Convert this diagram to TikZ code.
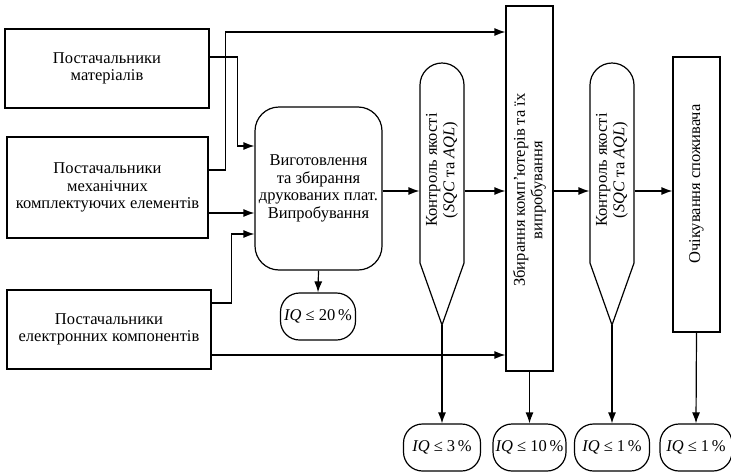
\documentclass[tikz,border=0pt]{standalone}
\usepackage{fontspec}
\setmainfont{Liberation Serif}
\usetikzlibrary{arrows.meta}
\begin{document}
\begin{tikzpicture}[x=1pt,y=-1pt,
  line width=1.2pt,
  every node/.style={font=\fontsize{16.5}{17.5}\selectfont, align=center, inner sep=0pt},
  block/.style={draw, rectangle},
  roundblock/.style={draw, rounded corners=24pt},
  result/.style={draw, rounded corners=19pt, minimum height=47pt},
  qcbody/.style={rectangle, minimum width=44pt},
  arr/.style={-{Latex[length=11pt,width=8pt]}}]
\useasboundingbox (0,0) rectangle (731,474);

% suppliers
\node[block, minimum width=204pt, minimum height=79pt] (sup1) at (107,68.5)
  {Постачальники\\матеріалів};
\node[block, minimum width=201pt, minimum height=101pt] (sup2) at (107.5,187.5)
  {Постачальники\\механічних\\комплектуючих елементів};
\node[block, minimum width=204pt, minimum height=79pt] (sup3) at (109,329.5)
  {Постачальники\\електронних компонентів};

% board manufacturing
\node[roundblock, minimum width=127pt, minimum height=163pt] (mfg) at (318.5,188.5)
  {Виготовлення\\та збирання\\друкованих плат.\\Випробування};
\node[result, minimum width=75pt] (iq20) at (318,316.5) {\textit{IQ} ≤ 20\,\%};

% quality control 1
\node[qcbody, minimum height=256pt] (qc1) at (442,191) {};
\coordinate (qc1tip) at (442,325);
\draw (420,85) .. controls (420,73) and (430,63) .. (442,63)
  .. controls (454,63) and (464,73) .. (464,85)
  -- (464,263) -- (qc1tip) -- (420,263) -- cycle;
\node[rotate=90] (qc1txt) at (442,170) {Контроль якості\\(\textit{SQC} та \textit{AQL})};

% computer assembly
\node[block, minimum width=47pt, minimum height=365pt] (asm) at (529.5,188.5) {};
\node[rotate=90] (asmtxt) at (529.5,190) {Збирання комп’ютерів та їх\\випробування};

% quality control 2
\node[qcbody, minimum height=256pt] (qc2) at (612,191) {};
\coordinate (qc2tip) at (612,325);
\draw (590,85) .. controls (590,73) and (600,63) .. (612,63)
  .. controls (624,63) and (634,73) .. (634,85)
  -- (634,263) -- (qc2tip) -- (590,263) -- cycle;
\node[rotate=90] (qc2txt) at (612,170) {Контроль якості\\(\textit{SQC} та \textit{AQL})};

% consumer expectations
\node[block, minimum width=47pt, minimum height=275pt] (cons) at (696.5,194.5) {};
\node[rotate=90] (constxt) at (696.5,184) {Очікування споживача};

% results
\node[result, minimum width=77pt] (iq3) at (442,447.5) {\textit{IQ} ≤ 3\,\%};
\node[result, minimum width=73pt] (iq10) at (529.5,447.5) {\textit{IQ} ≤ 10\,\%};
\node[result, minimum width=75pt] (iq1a) at (612,447.5) {\textit{IQ} ≤ 1\,\%};
\node[result, minimum width=72pt] (iq1b) at (696,447.5) {\textit{IQ} ≤ 1\,\%};

% supply lines
\draw[arr] ([yshift=11.5pt]sup1.east) -- ++(28,0) |- ([yshift=42.5pt]mfg.west);
\draw[arr] ([yshift=17.5pt]sup2.east) -- ++(17,0) |- ([yshift=156.5pt]asm.west);
\draw[arr] ([yshift=-25.5pt]sup2.east) -- ([yshift=-24.5pt]mfg.west);
\draw[arr] ([yshift=26.5pt]sup3.east) -- ++(20,0) |- ([yshift=-45.5pt]mfg.west);
\draw[arr] ([yshift=-25.5pt]sup3.east) -- ([yshift=-166.5pt]asm.west);

% main flow
\draw[arr] (mfg.east |- qc1.west) -- (qc1.west);
\draw[arr] (qc1.east) -- (asm.west |- qc1.east);
\draw[arr] (asm.east |- qc2.west) -- (qc2.west);
\draw[arr] (qc2.east) -- (cons.west |- qc2.east);

% outputs
\draw[arr] (mfg.south) -- (iq20.north);
\draw[arr] (qc1tip) -- (iq3.north);
\draw[arr] (asm.south) -- (iq10.north);
\draw[arr] (qc2tip) -- (iq1a.north);
\draw[arr] (cons.south) -- (iq1b.north);
\end{tikzpicture}
\end{document}
